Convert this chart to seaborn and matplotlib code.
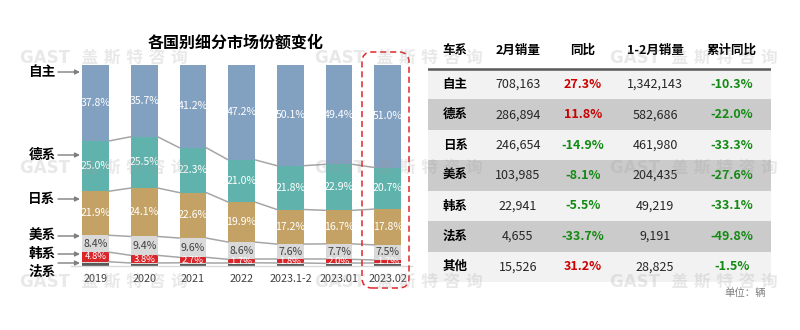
import numpy as np
import matplotlib
matplotlib.use('Agg')
import matplotlib.pyplot as plt
import seaborn as sns
from matplotlib.patches import FancyBboxPatch

# ---------------- data ----------------
periods = ['2019', '2020', '2021', '2022', '2023.1-2', '2023.01', '2023.02']
share_zizhu = [37.8, 35.7, 41.2, 47.2, 50.1, 49.4, 51.0]
share_dexi = [25.0, 25.5, 22.3, 21.0, 21.8, 22.9, 20.7]
share_rixi = [21.9, 24.1, 22.6, 19.9, 17.2, 16.7, 17.8]
share_meixi = [8.4, 9.4, 9.6, 8.6, 7.6, 7.7, 7.5]
share_hanxi = [4.8, 3.8, 2.7, 1.7, 1.8, 2.0, 1.7]
share_other = [0.7, 0.5, 0.6, 0.7, 0.6, 0.5, 0.5]
share_faxi = [1.4, 1.0, 1.0, 0.9, 0.9, 0.8, 0.8]

table_header = ['车系', '2月销量', '同比', '1-2月销量', '累计同比']
table_brands = ['自主', '德系', '日系', '美系', '韩系', '法系', '其他']
feb_sales = [708163, 286894, 246654, 103985, 22941, 4655, 15526]
feb_yoy = [27.3, 11.8, -14.9, -8.1, -5.5, -33.7, 31.2]
ytd_sales = [1342143, 582686, 461980, 204435, 49219, 9191, 28825]
ytd_yoy = [-10.3, -22.0, -33.3, -27.6, -33.1, -49.8, -1.5]

title = '各国别细分市场份额变化'
unit_note = '单位：辆'
watermark = 'GAST  盖 斯 特 咨 询'

# ---------------- style ----------------
sns.set_style('white')
plt.rcParams['font.family'] = ['Noto Sans CJK SC', 'DejaVu Sans']

W, H = 800, 330
fig = plt.figure(figsize=(8, 3.3), dpi=100)

# stacking bottom -> top
stack = [
    ('法系', share_faxi, '#595959'),
    ('其他', share_other, '#d9d9d9'),
    ('韩系', share_hanxi, '#d9262b'),
    ('美系', share_meixi, '#d9d9d9'),
    ('日系', share_rixi, '#c4a265'),
    ('德系', share_dexi, '#5fb3ac'),
    ('自主', share_zizhu, '#82a0c0'),
]
vals = np.array([s[1] for s in stack])
cum = np.cumsum(vals, axis=0)
bottoms = cum - vals

ax = fig.add_axes([71.15 / W, 64 / H, 341 / W, 201 / H])
bw = 0.55
for k in range(len(stack) - 1, -1, -1):
    sns.barplot(x=periods, y=cum[k], order=periods, color=stack[k][2],
                saturation=1, width=bw, errorbar=None, linewidth=0, ax=ax)

# connecting lines between bars at segment boundaries
for k in [1, 2, 3, 4, 5]:
    for i in range(len(periods) - 1):
        ax.plot([i + bw / 2, i + 1 - bw / 2], [cum[k][i], cum[k][i + 1]],
                color='#a6a6a6', lw=1.1, zorder=1)

# value labels
label_specs = {2: ('white', 6.8), 3: ('#404040', 7.6), 4: ('white', 7.6),
               5: ('white', 7.6), 6: ('white', 7.6)}
for k, (col, fs) in label_specs.items():
    for i in range(len(periods)):
        v = vals[k][i]
        ax.text(i, bottoms[k][i] + v / 2, f'{v:.1f}%', ha='center', va='center',
                color=col, fontsize=fs, fontweight='medium', zorder=5)

ax.set_xlim(-0.5, len(periods) - 0.5)
ax.set_ylim(0, 100)
ax.set_xlabel('')
ax.set_ylabel('')
ax.set_yticks([])
for sp in ['left', 'right', 'top']:
    ax.spines[sp].set_visible(False)
ax.spines['bottom'].set_color('#d9d9d9')
ax.spines['bottom'].set_linewidth(1)
ax.tick_params(axis='x', length=0, pad=6, labelsize=7.8, labelcolor='#404040')
ax.patch.set_alpha(0)

# title
fig.text(236 / W, 1 - 43 / H, title, ha='center', va='center',
         fontsize=11.5, fontweight='bold', color='black')

# left series labels with arrows (pixel layout)
left_labels = [('自主', 72, 72), ('德系', 155, 155), ('日系', 199, 199),
               ('美系', 236, 236), ('韩系', 254, 254), ('法系', 272, 263)]
for name, ty, ay in left_labels:
    fig.text(42 / W, 1 - ty / H, name, ha='center', va='center',
             fontsize=9.8, fontweight='bold', color='black')
    ax.annotate('', xy=(80, H - ay), xycoords='figure pixels',
                xytext=(58, H - ay), textcoords='figure pixels',
                arrowprops=dict(arrowstyle='-|>', color='#7f7f7f', lw=1,
                                mutation_scale=7, shrinkA=0, shrinkB=0))

# red dashed rounded highlight box
box = FancyBboxPatch((362 / 100, (H - 288) / 100), 47 / 100, 236 / 100,
                     boxstyle='round,pad=0,rounding_size=0.1',
                     transform=fig.dpi_scale_trans, fill=False,
                     edgecolor='#e0262b', lw=1.1, linestyle=(0, (4, 2.5)))
fig.add_artist(box)

# ---------------- table ----------------
tax = fig.add_axes([428 / W, 48 / H, 343 / W, 247 / H])
tax.set_xlim(0, 1)
tax.set_ylim(len(table_brands), -1.12)
tax.axis('off')
col_x = [0.079, 0.262, 0.452, 0.662, 0.886]
for i in range(len(table_brands)):
    tax.axhspan(i, i + 1, color='#f2f2f2' if i % 2 == 0 else '#cbcbcb', lw=0)
tax.axhline(0, color='#595959', lw=1.8)
for j, h in enumerate(table_header):
    tax.text(col_x[j], -0.62, h, ha='center', va='center', fontsize=9,
             fontweight='bold', color='black')

def pct_color(v):
    return '#cc0000' if v > 0 else '#138a13'

for i, b in enumerate(table_brands):
    y = i + 0.5
    tax.text(col_x[0], y, b, ha='center', va='center', fontsize=9,
             fontweight='bold', color='black')
    tax.text(col_x[1], y, f'{feb_sales[i]:,}', ha='center', va='center',
             fontsize=9, color='#262626')
    tax.text(col_x[2], y, f'{feb_yoy[i]:.1f}%', ha='center', va='center',
             fontsize=9, fontweight='bold', color=pct_color(feb_yoy[i]))
    tax.text(col_x[3], y, f'{ytd_sales[i]:,}', ha='center', va='center',
             fontsize=9, color='#262626')
    tax.text(col_x[4], y, f'{ytd_yoy[i]:.1f}%', ha='center', va='center',
             fontsize=9, fontweight='bold', color=pct_color(ytd_yoy[i]))

fig.text(745 / W, 1 - 293 / H, unit_note, ha='center', va='center',
         fontsize=7.5, color='#7f7f7f')

# watermarks
for wy in [58, 168, 282]:
    for wx in [20, 315, 610]:
        fig.text(wx / W, 1 - wy / H, watermark, ha='left', va='center',
                 fontsize=12, fontweight='bold', color='#9a9a9a', alpha=0.22,
                 family=['DejaVu Sans', 'Noto Sans CJK SC'], zorder=10)

fig.savefig('out.png', dpi=100)
